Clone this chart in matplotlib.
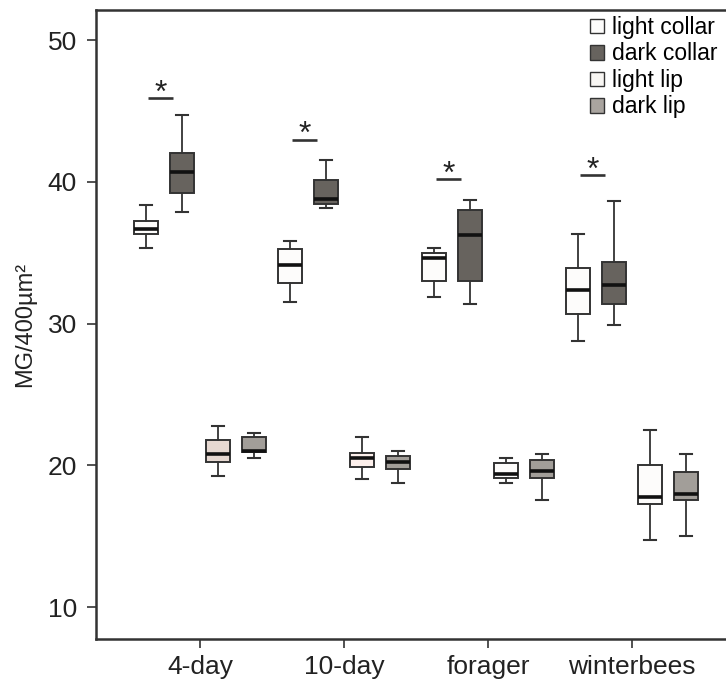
"""
Mushroom body microglomeruli density: collar vs lip, light vs dark, by bee age group.
"""
import matplotlib
matplotlib.use("Agg")
import matplotlib.pyplot as plt
from matplotlib.patches import Patch

plt.rcParams["font.family"] = ["Liberation Sans", "DejaVu Sans"]

GROUPS = ["4-day", "10-day", "forager", "winterbees"]
SERIES = ["light collar", "dark collar", "light lip", "dark lip"]

# box stats per series, one value per group: whisker low, q1, median, q3, whisker high
light_collar_lo = [35.35, 31.52, 31.88, 28.8]
light_collar_q1 = [36.32, 32.84, 33.03, 30.7]
light_collar_med = [36.7, 34.11, 34.6, 32.4]
light_collar_q3 = [37.21, 35.26, 34.96, 33.9]
light_collar_hi = [38.34, 35.85, 35.35, 36.34]

dark_collar_lo = [37.85, 38.17, 31.38, 29.9]
dark_collar_q1 = [39.19, 38.41, 33.03, 31.36]
dark_collar_med = [40.69, 38.81, 36.27, 32.7]
dark_collar_q3 = [42.03, 40.1, 38.03, 34.34]
dark_collar_hi = [44.69, 41.51, 38.7, 38.67]

light_lip_lo = [19.25, 19.02, 18.78, 14.76]
light_lip_q1 = [20.26, 19.87, 19.11, 17.26]
light_lip_med = [20.78, 20.54, 19.42, 17.8]
light_lip_q3 = [21.77, 20.9, 20.15, 20.03]
light_lip_hi = [22.78, 22.03, 20.5, 22.5]

dark_lip_lo = [20.5, 18.78, 17.54, 15.0]
dark_lip_q1 = [20.97, 19.77, 19.11, 17.56]
dark_lip_med = [21.05, 20.26, 19.61, 17.98]
dark_lip_q3 = [22.03, 20.64, 20.38, 19.51]
dark_lip_hi = [22.26, 21.02, 20.78, 20.78]

# significance marks (collar light vs dark)
sig_y = [45.93, 42.97, 40.2, 40.46]

STATS = [
    (light_collar_lo, light_collar_q1, light_collar_med, light_collar_q3, light_collar_hi),
    (dark_collar_lo, dark_collar_q1, dark_collar_med, dark_collar_q3, dark_collar_hi),
    (light_lip_lo, light_lip_q1, light_lip_med, light_lip_q3, light_lip_hi),
    (dark_lip_lo, dark_lip_q1, dark_lip_med, dark_lip_q3, dark_lip_hi),
]
FACES = [
    ["#fdfcfb"] * 4,
    ["#67635e"] * 4,
    ["#e6d8d1", "#fcefeb", "#fdfcfb", "#fdfcfb"],
    ["#a29e99"] * 4,
]
LEGEND_FACES = ["#fdfcfb", "#67635e", "#f8f6f3", "#a9a49f"]
OFFSETS = [-0.375, -0.125, 0.125, 0.375]
EDGE = "#333333"


def main() -> None:
    fig = plt.figure(figsize=(7.26, 6.82), dpi=100)
    ax = fig.add_axes([0.1318, 0.0626, 0.8682, 0.9227])

    for s, (lo, q1, med, q3, hi) in enumerate(STATS):
        for g in range(len(GROUPS)):
            stats = [dict(whislo=lo[g], q1=q1[g], med=med[g], q3=q3[g], whishi=hi[g], fliers=[])]
            ax.bxp(
                stats,
                positions=[g + 1 + OFFSETS[s]],
                widths=0.163,
                capwidths=0.08,
                patch_artist=True,
                showfliers=False,
                boxprops=dict(facecolor=FACES[s][g], edgecolor=EDGE, linewidth=1.4),
                medianprops=dict(color="#111111", linewidth=2.6, solid_capstyle="butt"),
                whiskerprops=dict(color=EDGE, linewidth=1.3),
                capprops=dict(color=EDGE, linewidth=1.5),
            )

    for g, y in enumerate(sig_y):
        x0 = g + 1 - 0.36
        x1 = g + 1 - 0.185
        ax.plot([x0, x1], [y, y], color=EDGE, linewidth=1.9, solid_capstyle="butt")
        ax.text((x0 + x1) / 2, y - 0.75, "*", ha="center", va="bottom",
                fontsize=23, color="#222222")

    ax.set_xlim(0.2757, 4.653)
    ax.set_ylim(7.74, 52.12)
    ax.set_xticks(range(1, len(GROUPS) + 1))
    ax.set_xticklabels(GROUPS)
    ax.set_yticks([10, 20, 30, 40, 50])
    ax.tick_params(axis="both", labelsize=19, length=6.5, width=1.2, color=EDGE, labelcolor="#222222")
    ax.tick_params(axis="y", pad=7)
    ax.tick_params(axis="x", pad=5)
    ax.set_ylabel("MG/400µm²", fontsize=17, color="#222222", labelpad=8)

    ax.spines["right"].set_visible(False)
    for side in ["left", "top", "bottom"]:
        ax.spines[side].set_linewidth(1.8)
        ax.spines[side].set_color(EDGE)

    handles = [Patch(facecolor=c, edgecolor=EDGE, linewidth=1.0) for c in LEGEND_FACES]
    fig.legend(
        handles,
        SERIES,
        loc="upper left",
        bbox_to_anchor=(590 / 726, 1 - 16 / 682),
        frameon=False,
        fontsize=16.5,
        handlelength=0.6,
        handleheight=0.6,
        handletextpad=0.35,
        labelspacing=0.15,
        borderpad=0,
        borderaxespad=0,
    )

    fig.savefig("out.png", dpi=100)
    plt.close(fig)


if __name__ == "__main__":
    main()
